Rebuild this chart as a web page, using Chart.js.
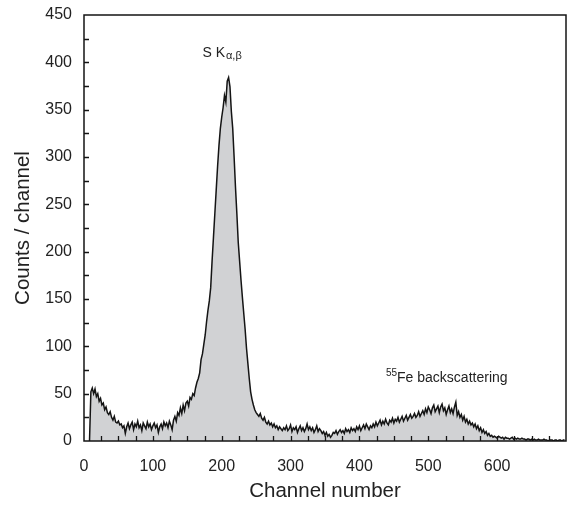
<!DOCTYPE html>
<html>
<head>
<meta charset="utf-8">
<script src="https://cdn.jsdelivr.net/npm/chart.js@4/dist/chart.umd.min.js"></script>
<style>
    html, body { margin: 0; padding: 0; background: #fff; }
</style>
</head>
<body>
<canvas id="spectrum" width="569" height="508"></canvas>
<script>
// channel of the first count, and spacing between counts
const CH_START = 8;
const CH_STEP = 2;

// counts per channel (ch 8 .. 698, every 2nd channel)
const leftEdge = [0];
const lowTail = [52, 56, 50, 55, 47, 50, 42, 45, 38, 40, 33, 36, 30, 28, 31, 25, 22, 26, 20, 19];
const valley = [21, 17, 18, 14, 16, 8, 15, 19, 13, 17, 20, 12, 18, 15, 21, 14, 17, 11, 19, 16,
    13, 20, 15, 18, 12, 16, 19, 14, 17, 9, 15, 18, 13, 20, 16, 19, 14, 21, 17, 12];
const peakRise = [22, 26, 21, 30, 27, 35, 29, 38, 32, 40, 42, 37, 46, 44, 50, 48, 56, 62, 66, 72,
    86, 92, 102, 112, 126, 138, 148, 162, 190, 215, 240, 265, 290, 312, 330, 342, 352, 365, 358, 380];
const peakFall = [384, 374, 348, 330, 300, 268, 240, 210, 190, 170, 152, 135, 118, 98, 82, 66, 52, 44, 38, 33,
    30, 28, 26, 29, 24, 22, 25, 20, 18, 21, 17, 19, 15, 18, 14, 16, 12, 15, 13, 11];
const midFlat = [14, 12, 16, 11, 13, 17, 10, 14, 12, 15, 9, 13, 16, 11, 14, 10, 13, 18, 12, 15,
    11, 14, 9, 12, 16, 10, 13, 11, 8, 10, 6, 9, 5, 7, 4,
    6, 9, 8, 11, 7, 10, 12, 9, 11, 8, 13, 10, 12, 9, 14, 11, 13, 10, 15, 12,
    16, 11, 14, 17, 13, 18, 15, 12, 16, 14];
const backscatter = [18, 15, 20, 16, 19, 22, 17, 21, 18, 23, 19, 17, 22, 20, 24, 19, 23, 21, 25, 20,
    23, 26, 21, 24, 27, 22, 25, 28, 24, 26, 29, 25, 27, 31, 26, 29, 32, 28, 34, 30,
    36, 33, 29, 35, 38, 31, 34, 37, 30, 36, 39, 32, 35, 28, 33, 37, 30, 34, 29, 36,
    41, 27, 31, 25, 28, 22, 26, 20, 23, 18, 21, 17, 19, 15, 18, 13, 16, 11, 14, 9,
    12, 8, 10, 6, 8, 5, 6, 4, 5, 4];
const highTail = [3, 5, 4, 3, 4, 2, 4, 3, 3, 2, 3, 4, 2, 3, 2, 3, 2, 2, 3, 2,
    2, 1, 2, 2, 1, 2, 1, 2, 1, 1, 2, 1, 1, 1, 2, 1, 1, 0, 1, 1,
    1, 0, 1, 1, 0, 1, 1, 0, 1, 1];

const counts = [].concat(leftEdge, lowTail, valley, peakRise, peakFall, midFlat, backscatter, highTail);

const xTickValues = [0, 100, 200, 300, 400, 500, 600];
const yTickValues = [0, 50, 100, 150, 200, 250, 300, 350, 400, 450];
const X_MAX = 700;
const Y_MAX = 450;
const MINOR = 25;

// annotation anchors in data units (channel, counts)
const peakNote = { ch: 172, y: 406, text: 'S K', sub: 'α,β' };
const feNote = { ch: 438.5, y: 62, sup: '55', text: 'Fe backscattering' };

const points = counts.map((c, i) => ({ x: CH_START + i * CH_STEP, y: c }));

const FONT = '"Liberation Sans", Arial, Helvetica, sans-serif';
const INK = '#141414';

// chart.js reserves room for half tick labels; we want the plot box exactly placed
const noEdgePadding = s => {
    s.paddingTop = 0;
    s.paddingBottom = 0;
    s.paddingLeft = 0;
    s.paddingRight = 0;
};

const frameAndTicks = {
    id: 'frameAndTicks',
    afterDatasetsDraw(chart) {
        const { ctx, chartArea: a, scales: { x, y } } = chart;
        ctx.save();
        ctx.strokeStyle = INK;
        ctx.lineWidth = 1.5;
        ctx.strokeRect(a.left, a.top, a.right - a.left, a.bottom - a.top);
        ctx.lineWidth = 1.3;
        ctx.beginPath();
        for (let v = MINOR; v < X_MAX; v += MINOR) {
            const px = Math.round(x.getPixelForValue(v)) + 0.5;
            ctx.moveTo(px, a.bottom);
            ctx.lineTo(px, a.bottom - 5);
        }
        for (let v = MINOR; v < Y_MAX; v += MINOR) {
            const py = Math.round(y.getPixelForValue(v)) + 0.5;
            ctx.moveTo(a.left, py);
            ctx.lineTo(a.left + 5, py);
        }
        ctx.stroke();
        ctx.restore();
    }
};

const notes = {
    id: 'notes',
    afterDraw(chart) {
        const { ctx, scales: { x, y } } = chart;
        ctx.save();
        ctx.fillStyle = '#222';
        ctx.textBaseline = 'alphabetic';
        ctx.textAlign = 'left';

        let px = x.getPixelForValue(peakNote.ch), py = y.getPixelForValue(peakNote.y);
        ctx.font = `14px ${FONT}`;
        ctx.fillText(peakNote.text, px, py);
        px += ctx.measureText(peakNote.text).width + 1;
        ctx.font = `11px ${FONT}`;
        ctx.fillText(peakNote.sub, px, py + 2.5);

        px = x.getPixelForValue(feNote.ch);
        py = y.getPixelForValue(feNote.y);
        ctx.font = `10px ${FONT}`;
        ctx.fillText(feNote.sup, px, py - 6);
        px += ctx.measureText(feNote.sup).width;
        ctx.font = `14px ${FONT}`;
        ctx.fillText(feNote.text, px, py);
        ctx.restore();
    }
};

new Chart(document.getElementById('spectrum'), {
    type: 'line',
    data: {
        datasets: [{
            data: points,
            borderColor: INK,
            borderWidth: 1.5,
            backgroundColor: '#d1d2d4',
            fill: 'origin',
            pointRadius: 0,
            tension: 0
        }]
    },
    options: {
        responsive: false,
        animation: false,
        layout: { padding: { left: 0, top: 15, right: 3, bottom: 0 } },
        plugins: { legend: { display: false }, tooltip: { enabled: false } },
        scales: {
            x: {
                type: 'linear',
                min: 0,
                max: X_MAX,
                afterBuildTicks: s => { s.ticks = xTickValues.map(v => ({ value: v })); },
                afterFit: s => { s.height = 67; noEdgePadding(s); },
                grid: { display: false, drawTicks: false },
                border: { display: false },
                ticks: { padding: 16, color: '#222', font: { family: FONT, size: 16 } },
                title: {
                    display: true, text: 'Channel number', color: '#222',
                    font: { family: FONT, size: 20.5 }, padding: { top: 0, bottom: 4 }
                }
            },
            y: {
                min: 0,
                max: Y_MAX,
                afterBuildTicks: s => { s.ticks = yTickValues.map(v => ({ value: v })); },
                afterFit: s => { s.width = 84; noEdgePadding(s); },
                grid: { display: false, drawTicks: false },
                border: { display: false },
                ticks: { padding: 12, color: '#222', font: { family: FONT, size: 16 } },
                title: {
                    display: true, text: 'Counts / channel', color: '#222',
                    font: { family: FONT, size: 20.5 }, padding: { top: 11, bottom: 0 }
                }
            }
        }
    },
    plugins: [frameAndTicks, notes]
});
</script>
</body>
</html>
